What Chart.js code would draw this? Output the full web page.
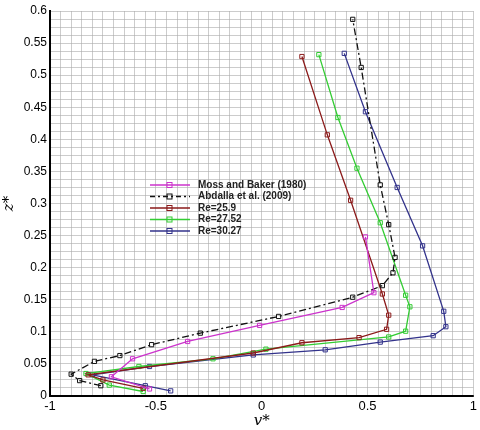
<!DOCTYPE html>
<html>
<head>
<script src="https://cdn.jsdelivr.net/npm/chart.js@4"></script>
<style>body{margin:0;background:#fff}#wrap{width:480px;height:430px}</style>
</head>
<body>
<div id="wrap"><canvas id="c"></canvas></div>
<script>
// ---- data ----
const mossX = [-0.53, -0.71, -0.61, -0.35, -0.01, 0.38, 0.53, 0.49];
const mossY = [0.011, 0.030, 0.058, 0.085, 0.110, 0.138, 0.161, 0.248];
const abdX = [-0.76, -0.86, -0.90, -0.79, -0.67, -0.52, -0.29, 0.08, 0.43, 0.57, 0.62, 0.63, 0.60, 0.56, 0.47, 0.43];
const abdY = [0.016, 0.024, 0.034, 0.054, 0.063, 0.080, 0.098, 0.124, 0.154, 0.172, 0.192, 0.216, 0.267, 0.329, 0.512, 0.587];
const re259X = [-0.56, -0.75, -0.82, -0.04, 0.19, 0.46, 0.59, 0.60, 0.57, 0.42, 0.31, 0.19];
const re259Y = [0.012, 0.025, 0.033, 0.067, 0.083, 0.091, 0.104, 0.126, 0.159, 0.305, 0.407, 0.529];
const re2752X = [-0.56, -0.72, -0.83, -0.58, -0.23, 0.02, 0.60, 0.68, 0.70, 0.68, 0.56, 0.45, 0.36, 0.27];
const re2752Y = [0.007, 0.017, 0.035, 0.046, 0.058, 0.073, 0.092, 0.101, 0.139, 0.157, 0.270, 0.355, 0.434, 0.532];
const re3027X = [-0.43, -0.55, -0.80, -0.53, -0.04, 0.30, 0.56, 0.81, 0.87, 0.86, 0.76, 0.64, 0.49, 0.39];
const re3027Y = [0.008, 0.016, 0.033, 0.046, 0.064, 0.072, 0.084, 0.094, 0.108, 0.132, 0.234, 0.325, 0.443, 0.534];

const names = ["Moss and Baker (1980)", "Abdalla et al. (2009)", "Re=25.9", "Re=27.52", "Re=30.27"];
const colors = ["#cc33cc", "#111111", "#8b1a1a", "#33cc33", "#33338b"];

function pts(xs, ys) { return xs.map((x, i) => ({ x: x, y: ys[i] })); }
const series = [pts(mossX, mossY), pts(abdX, abdY), pts(re259X, re259Y), pts(re2752X, re2752Y), pts(re3027X, re3027Y)];

const datasets = series.map((d, i) => ({
    label: names[i],
    data: d,
    borderColor: colors[i],
    backgroundColor: "rgba(0,0,0,0)",
    borderWidth: 1.3,
    borderDash: i === 1 ? [7, 3, 2, 3] : [],
    pointStyle: "rect",
    pointRadius: 3,
    pointBorderColor: colors[i],
    pointBorderWidth: 1,
    showLine: true,
    tension: 0
}));

// legend drawn inside the plot area
const innerLegend = {
    id: "innerLegend",
    afterDatasetsDraw(chart) {
        const ctx = chart.ctx;
        const x0 = chart.chartArea.left + 100, y0 = 185;
        ctx.save();
        ctx.font = "bold 10px Arial, 'Liberation Sans'";
        ctx.textBaseline = "middle";
        names.forEach((n, i) => {
            const y = y0 + i * 11.5;
            ctx.strokeStyle = colors[i];
            ctx.lineWidth = 1.3;
            ctx.setLineDash(i === 1 ? [5, 3, 2, 3] : []);
            ctx.beginPath(); ctx.moveTo(x0, y); ctx.lineTo(x0 + 40, y); ctx.stroke();
            ctx.setLineDash([]);
            ctx.lineWidth = 1;
            ctx.strokeRect(x0 + 17, y - 2.5, 5, 5);
            ctx.fillStyle = "#222";
            ctx.fillText(n, x0 + 48, y);
        });
        ctx.restore();
    }
};

const gridStyle = { color: "#aaa", lineWidth: 0.6, drawTicks: false, tickBorderDash: [1, 1] };

new Chart(document.getElementById("c"), {
    type: "scatter",
    data: { datasets: datasets },
    options: {
        responsive: true,
        maintainAspectRatio: false,
        animation: false,
        layout: { padding: { top: 11, right: 0 } },
        plugins: { legend: { display: false }, tooltip: { enabled: false } },
        scales: {
            x: {
                type: "linear", min: -1, max: 1,
                afterFit: s => { s.height = 34; },
                ticks: {
                    stepSize: 0.05, autoSkip: false, maxRotation: 0, color: "#000",
                    font: { size: 13, family: "Arial, 'Liberation Sans'" },
                    callback: v => (Math.abs(v * 2 - Math.round(v * 2)) < 1e-6 ? String(Math.round(v * 2) / 2) : "")
                },
                grid: gridStyle,
                border: { color: "#000", width: 2 },
                title: { display: true, text: "v*", font: { size: 15, style: "italic", family: "'DejaVu Serif', serif" }, color: "#000", padding: 0 }
            },
            y: {
                type: "linear", min: 0, max: 0.6,
                afterFit: s => { s.width = 50; },
                ticks: {
                    stepSize: 0.0125, autoSkip: false, color: "#000",
                    font: { size: 12, family: "Arial, 'Liberation Sans'" },
                    callback: v => {
                        const k = Math.round(v / 0.0125);
                        return k % 4 === 0 ? String(+(v).toFixed(2)) : "";
                    }
                },
                grid: gridStyle,
                border: { color: "#000", width: 2 },
                title: { display: true, text: "z*", font: { size: 15, style: "italic", family: "'DejaVu Serif', serif" }, color: "#000", padding: 0 }
            }
        }
    },
    plugins: [innerLegend]
});
</script>
</body>
</html>
